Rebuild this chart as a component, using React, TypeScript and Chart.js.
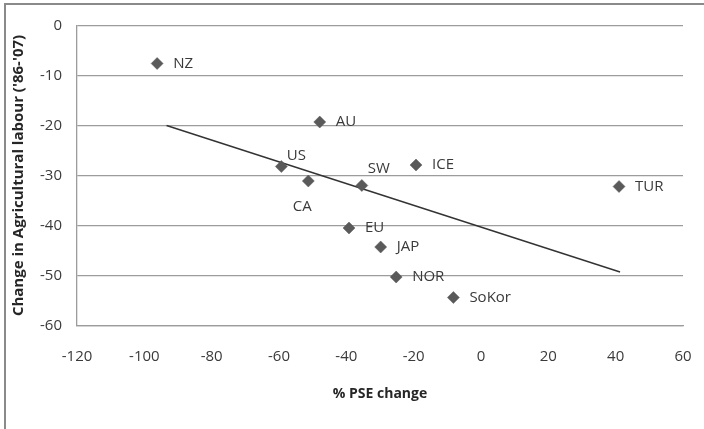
import React, { useEffect, useRef } from "react";
import { Chart, registerables } from "chart.js";

Chart.register(...registerables);

// ---- data ----
const countries = ["NZ", "AU", "US", "CA", "SW", "ICE", "TUR", "EU", "JAP", "NOR", "SoKor"];
const pseChange = [-96.2, -47.9, -59.3, -51.3, -35.4, -19.3, 41.0, -39.2, -29.8, -25.2, -8.2];
const labourChange = [-7.6, -19.3, -28.2, -31.1, -32.0, -27.9, -32.2, -40.5, -44.3, -50.3, -54.4];
const trendX = [-93.4, 41.3];
const trendY = [-20.0, -49.3];
const xTitle = "% PSE change";
const yTitle = "Change in Agricultural labour ('86-'07)";

// ---- label placement (styling) ----
const labelPlacement: Record<string, { dx: number; dy: number; align: CanvasTextAlign }> = {
  US: { dx: 15, dy: -11, align: "center" },
  CA: { dx: -6, dy: 26, align: "center" },
  SW: { dx: 17, dy: -17, align: "center" },
};
const defaultPlacement = { dx: 16, dy: 0, align: "left" as CanvasTextAlign };

const FONT = "'Open Sans', 'DejaVu Sans', sans-serif";
const GRID = "#9c9c9c";
const TEXT = "#3a3a3a";

const pointLabels = {
  id: "pointLabels",
  afterDatasetsDraw(chart: any) {
    const meta = chart.getDatasetMeta(0);
    const ctx = chart.ctx;
    ctx.save();
    ctx.font = `15px ${FONT}`;
    ctx.fillStyle = TEXT;
    ctx.textBaseline = "middle";
    meta.data.forEach((el: any, i: number) => {
      const name = countries[i];
      const p = labelPlacement[name] || defaultPlacement;
      ctx.textAlign = p.align;
      ctx.fillText(name, el.x + p.dx, el.y + p.dy);
    });
    ctx.restore();
  },
};

export default function App() {
  const ref = useRef<HTMLCanvasElement>(null);
  useEffect(() => {
    if (!ref.current) return;
    const chart = new Chart(ref.current, {
      type: "scatter",
      data: {
        datasets: [
          {
            data: pseChange.map((x, i) => ({ x, y: labourChange[i] })),
            pointStyle: "rectRot",
            pointRadius: 6,
            backgroundColor: "#5a5a5a",
            borderColor: "#5a5a5a",
            borderWidth: 0.5,
          },
          {
            type: "line",
            data: trendX.map((x, i) => ({ x, y: trendY[i] })),
            borderColor: "#333333",
            borderWidth: 1.4,
            pointRadius: 0,
            fill: false,
          } as any,
        ],
      },
      options: {
        animation: false,
        responsive: false,
        devicePixelRatio: 1,
        layout: { padding: { top: 25.5, right: 21, bottom: 27, left: 0 } },
        plugins: { legend: { display: false }, tooltip: { enabled: false } },
        scales: {
          x: {
            type: "linear",
            min: -120,
            max: 60,
            ticks: {
              stepSize: 20,
              padding: 4,
              color: TEXT,
              font: { family: FONT, size: 15 },
            },
            grid: { display: true, color: "rgba(0,0,0,0)", drawTicks: true, tickLength: 18, tickColor: "rgba(0,0,0,0)" },
            border: { display: true, color: GRID, width: 1.3 },
            title: {
              display: true,
              text: xTitle,
              color: "#262626",
              font: { family: FONT, size: 14, weight: "bold" },
              padding: { top: 0, bottom: 0 },
            },
            afterFit: (s: any) => {
              s.height = 76.5;
            },
          },
          y: {
            type: "linear",
            min: -60,
            max: 0,
            ticks: {
              stepSize: 10,
              padding: 4,
              color: TEXT,
              font: { family: FONT, size: 15 },
            },
            grid: { color: GRID, lineWidth: 1.3, drawTicks: true, tickLength: 11, tickColor: "rgba(0,0,0,0)" },
            border: { display: true, color: GRID, width: 1.3 },
            title: {
              display: true,
              text: yTitle,
              color: "#262626",
              font: { family: FONT, size: 15, weight: "bold" },
              padding: { top: 10, bottom: 0 },
            },
            afterFit: (s: any) => {
              s.width = 77;
            },
          },
        },
      },
      plugins: [pointLabels],
    });
    return () => chart.destroy();
  }, []);

  return (
    <div style={{ position: "absolute", left: 0, top: 0, width: 704, height: 429, background: "#fff", overflow: "hidden" }}>
      <div
        style={{
          position: "absolute",
          left: 4,
          top: 3,
          width: 720,
          height: 440,
          borderTop: "2px solid #8a8a8a",
          borderLeft: "2px solid #8a8a8a",
        }}
      />
      <canvas ref={ref} width={704} height={429} style={{ position: "absolute", left: 0, top: 0 }} />
    </div>
  );
}
